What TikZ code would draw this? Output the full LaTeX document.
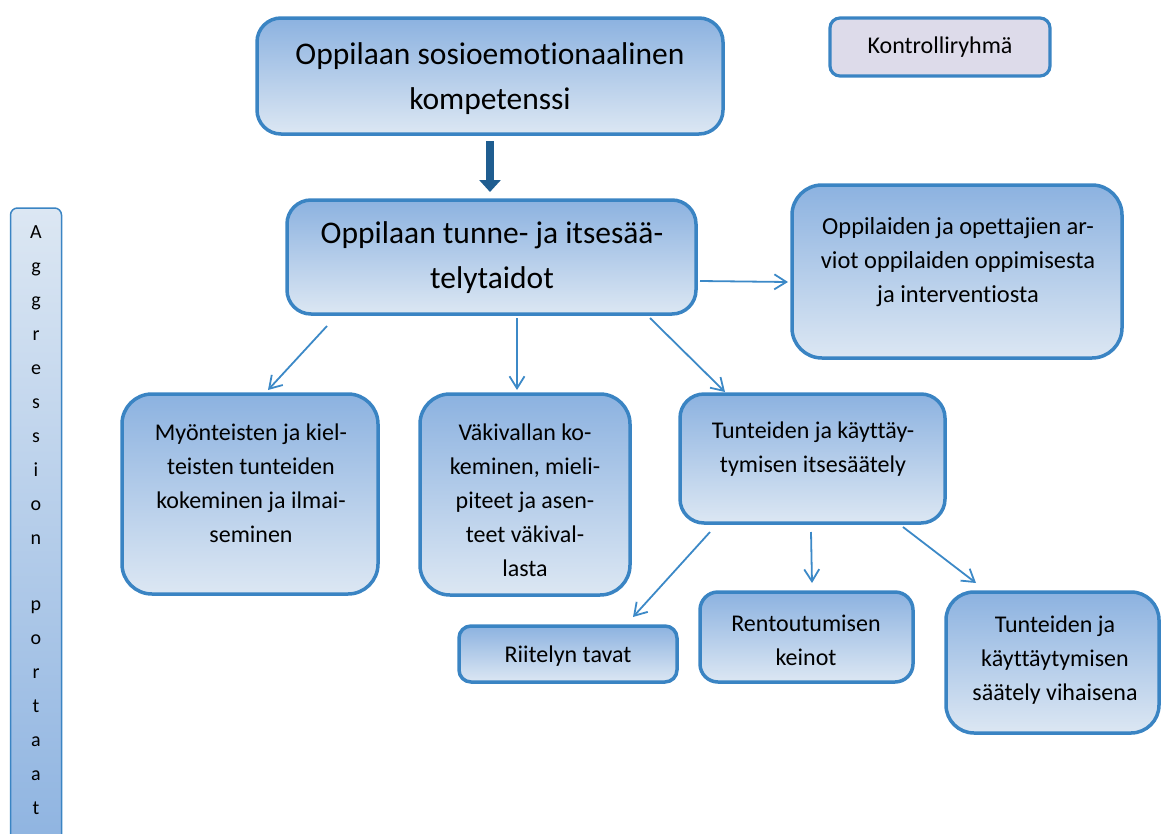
\documentclass[tikz,border=0pt]{standalone}
\usepackage{fontspec}
\setmainfont{Carlito}[Ligatures=NoCommon]
\usetikzlibrary{arrows.meta,calc}

\definecolor{edge}{HTML}{3A84C3}
\definecolor{fillTop}{HTML}{8CB2E0}
\definecolor{fillBot}{HTML}{DCE7F3}
\definecolor{lavender}{HTML}{DDDBEA}
\definecolor{darkarrow}{HTML}{1F5D90}
\definecolor{linkcol}{HTML}{3C89C7}

\tikzset{
  box/.style={draw=edge, line width=3.5pt, top color=fillTop, bottom color=fillBot,
    inner sep=0pt, outer sep=0pt},
  txt/.style={align=center, inner sep=0pt, font=\fontsize{24}{34}\selectfont},
  bigtxt/.style={txt, font=\fontsize{31.5}{45}\selectfont},
  link/.style={draw=linkcol, line width=1.8pt,
    -{Straight Barb[length=12pt,width=15pt,line width=1.8pt]}},
}

\begin{document}
\begin{tikzpicture}[x=1pt,y=-1pt]
\clip (0,0) rectangle (1162,833);

% upper level
\node[box, rounded corners=24pt, minimum width=466pt, minimum height=116pt] (top) at (490,76) {};
\node[bigtxt] (top-t) at (490,79) {Oppilaan sosioemotionaalinen\\kompetenssi};

\node[draw=edge, line width=3.2pt, fill=lavender, rounded corners=10pt, minimum width=220pt, minimum height=58pt] (ctrl) at (940,47) {};
\node[txt] (ctrl-t) at (940,47) {Kontrolliryhmä};

\node[box, rounded corners=24pt, minimum width=409pt, minimum height=114pt] (mid) at (491.5,257) {};
\node[bigtxt] (mid-t) at (492,258) {Oppilaan tunne- ja itsesää-\\telytaidot};

\node[box, rounded corners=30pt, minimum width=330pt, minimum height=173pt] (eval) at (957,271.5) {};
\node[txt, font=\fontsize{24.5}{34}\selectfont] (eval-t) at (958,262) {Oppilaiden ja opettajien ar-\\viot oppilaiden oppimisesta\\ja interventiosta};

% side column
\node[draw=edge, line width=1.5pt, top color=fillBot, bottom color=fillTop, rounded corners=7pt,
  minimum width=51pt, minimum height=660pt, inner sep=0pt] (aggr) at (36,538) {};
\node[txt, font=\fontsize{20}{34}\selectfont, anchor=north] (aggr-t) at (36,225)
  {A\\g\\g\\r\\e\\s\\s\\i\\o\\n\\[32pt]p\\o\\r\\t\\a\\a\\t};

% second level
\node[box, rounded corners=30pt, minimum width=256pt, minimum height=200pt] (pos) at (250,494) {};
\node[txt] (pos-t) at (251,483) {Myönteisten ja kiel-\\teisten tunteiden\\kokeminen ja ilmai-\\seminen};

\node[box, rounded corners=30pt, minimum width=210pt, minimum height=201pt] (viol) at (525,494.5) {};
\node[txt] (viol-t) at (525,500) {Väkivallan ko-\\keminen, mieli-\\piteet ja asen-\\teet väkival-\\lasta};

\node[box, rounded corners=24pt, minimum width=265pt, minimum height=129pt] (self) at (812.5,458.5) {};
\node[txt] (self-t) at (813,449) {Tunteiden ja käyttäy-\\tymisen itsesäätely};

% third level
\node[box, rounded corners=12pt, minimum width=218pt, minimum height=56pt] (quar) at (568,654) {};
\node[txt] (quar-t) at (568,656) {Riitelyn tavat};

\node[box, rounded corners=18pt, minimum width=213pt, minimum height=90pt] (relax) at (806.5,637) {};
\node[txt] (relax-t) at (806,640) {Rentoutumisen\\keinot};

\node[box, rounded corners=28pt, minimum width=213pt, minimum height=141pt] (angry) at (1052.5,662.5) {};
\node[txt] (angry-t) at (1055,660) {Tunteiden ja\\käyttäytymisen\\säätely vihaisena};

% connectors
\draw[darkarrow, line width=8pt, -{Triangle[length=12pt,width=21pt]}, shorten <=7pt, shorten >=8pt]
  (top.south) -- (mid.north -| top.south);

\draw[link] ($(mid.east)+(4,24)$) -- ($(eval.west)+(-4,10.5)$);

\draw[link] ($(mid.south)+(-164.5,12)$) -- ($(pos.north)+(18,-4)$);
\draw[link] ($(mid.south)+(25.5,4)$) -- ($(viol.north)+(-8,-4)$);
\draw[link] ($(mid.south)+(158.5,4)$) -- ($(self.north)+(-87.5,-2)$);

\draw[link] ($(self.south)+(-102.5,9)$) -- ($(quar.north)+(65,-9)$);
\draw[link] ($(self.south)+(-1.5,9)$) -- ($(relax.north)+(5.5,-9)$);
\draw[link] ($(self.south)+(90.5,4)$) -- ($(angry.north)+(-76.5,-9)$);
\end{tikzpicture}
\end{document}
